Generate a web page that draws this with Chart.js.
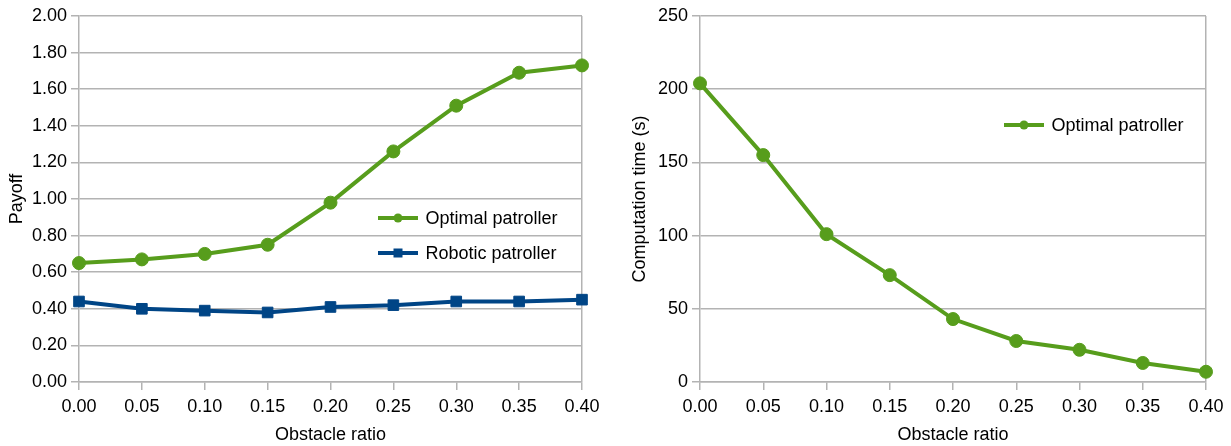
<!DOCTYPE html>
<html>
<head>
<meta charset="utf-8">
<script src="https://cdn.jsdelivr.net/npm/chart.js@4/dist/chart.umd.min.js"></script>
<style>
  html, body { margin: 0; padding: 0; background: #fff; }
  #wrap { position: relative; width: 1231px; height: 446px; overflow: hidden; }
  #c1 { position: absolute; left: 0; top: 0; }
  #c2 { position: absolute; left: 615px; top: 0; }
</style>
</head>
<body>
<div id="wrap">
  <canvas id="c1" width="615" height="446"></canvas>
  <canvas id="c2" width="616" height="446"></canvas>
</div>
<script>
// ---- data ----
const obstacleRatios = ['0.00', '0.05', '0.10', '0.15', '0.20', '0.25', '0.30', '0.35', '0.40'];
const optimalPayoff = [0.65, 0.67, 0.70, 0.75, 0.98, 1.26, 1.51, 1.69, 1.73];
const roboticPayoff = [0.44, 0.40, 0.39, 0.38, 0.41, 0.42, 0.44, 0.44, 0.45];
const computationTime = [204, 155, 101, 73, 43, 28, 22, 13, 7];

const GREEN = '#579d1c';
const BLUE = '#004586';
const GRID = '#b3b3b3';
const FONT = '"Liberation Sans", Arial, sans-serif';

Chart.defaults.font.family = FONT;
Chart.defaults.font.size = 18;
Chart.defaults.color = '#000';

const insideLegend = {
  id: 'insideLegend',
  afterDraw(chart, args, opts) {
    const { ctx, chartArea } = chart;
    ctx.save();
    chart.data.datasets.forEach((ds, i) => {
      const x0 = chartArea.left + opts.x;
      const y = chartArea.top + opts.y + i * opts.rowGap;
      ctx.strokeStyle = ds.borderColor;
      ctx.lineWidth = 4;
      ctx.beginPath();
      ctx.moveTo(x0, y);
      ctx.lineTo(x0 + 40, y);
      ctx.stroke();
      ctx.fillStyle = ds.borderColor;
      if (ds.pointStyle === 'rect') {
        ctx.fillRect(x0 + 20 - 4.5, y - 4.5, 9, 9);
      } else {
        ctx.beginPath();
        ctx.arc(x0 + 20, y, 4.5, 0, Math.PI * 2);
        ctx.fill();
      }
      ctx.fillStyle = '#000';
      ctx.font = '18px ' + FONT;
      ctx.textBaseline = 'middle';
      ctx.textAlign = 'left';
      ctx.fillText(ds.label, x0 + 47.5, y + 1);
    });
    ctx.restore();
  }
};

function xScale() {
  return {
    type: 'category',
    offset: false,
    afterFit(s) { s.height = 64; },
    grid: {
      offset: false,
      color: (c) => (c.index === c.scale.ticks.length - 1 ? GRID : 'rgba(0,0,0,0)'),
      tickColor: GRID,
      tickLength: 8,
      lineWidth: 1.5
    },
    border: { color: GRID, width: 1.5 },
    ticks: { padding: 6, maxRotation: 0, autoSkip: false, color: '#000' },
    title: { display: true, text: 'Obstacle ratio', padding: { top: 4, bottom: 0 }, color: '#000' }
  };
}

function yScale(title, max, step, fmt, width, titlePad) {
  return {
    min: 0, max: max,
    afterFit(s) { s.width = width; },
    grid: { color: GRID, tickColor: GRID, tickLength: 8, lineWidth: 1.5 },
    border: { color: GRID, width: 1.5 },
    ticks: { stepSize: step, padding: 4, callback: fmt, color: '#000' },
    title: { display: true, text: title, padding: { top: titlePad, bottom: 4 }, color: '#000' }
  };
}

function ds(label, data, color, style, radius) {
  return {
    label, data,
    borderColor: color, backgroundColor: color,
    pointBackgroundColor: color, pointBorderColor: color,
    borderWidth: 4, tension: 0,
    pointStyle: style, pointRadius: radius, pointHoverRadius: radius, pointBorderWidth: 1,
    clip: false
  };
}

new Chart(document.getElementById('c1'), {
  type: 'line',
  data: {
    labels: obstacleRatios,
    datasets: [
      ds('Optimal patroller', optimalPayoff, GREEN, 'circle', 6.5),
      ds('Robotic patroller', roboticPayoff, BLUE, 'rect', 7.5)
    ]
  },
  options: {
    responsive: false, animation: false,
    layout: { padding: { left: 0, top: 16, right: 33, bottom: 0 } },
    plugins: { legend: { display: false }, tooltip: { enabled: false },
      insideLegend: { x: 299, y: 202, rowGap: 35 } },
    scales: {
      x: xScale(),
      y: yScale('Payoff', 2, 0.2, (v) => Number(v).toFixed(2), 79, 6)
    }
  },
  plugins: [insideLegend]
});

new Chart(document.getElementById('c2'), {
  type: 'line',
  data: {
    labels: obstacleRatios,
    datasets: [
      ds('Optimal patroller', computationTime, GREEN, 'circle', 6.5)
    ]
  },
  options: {
    responsive: false, animation: false,
    layout: { padding: { left: 0, top: 16, right: 25, bottom: 0 } },
    plugins: { legend: { display: false }, tooltip: { enabled: false },
      insideLegend: { x: 304, y: 109, rowGap: 35 } },
    scales: {
      x: xScale(),
      y: yScale('Computation time (s)', 250, 50, (v) => String(v), 85, 14)
    }
  },
  plugins: [insideLegend]
});
</script>
</body>
</html>
